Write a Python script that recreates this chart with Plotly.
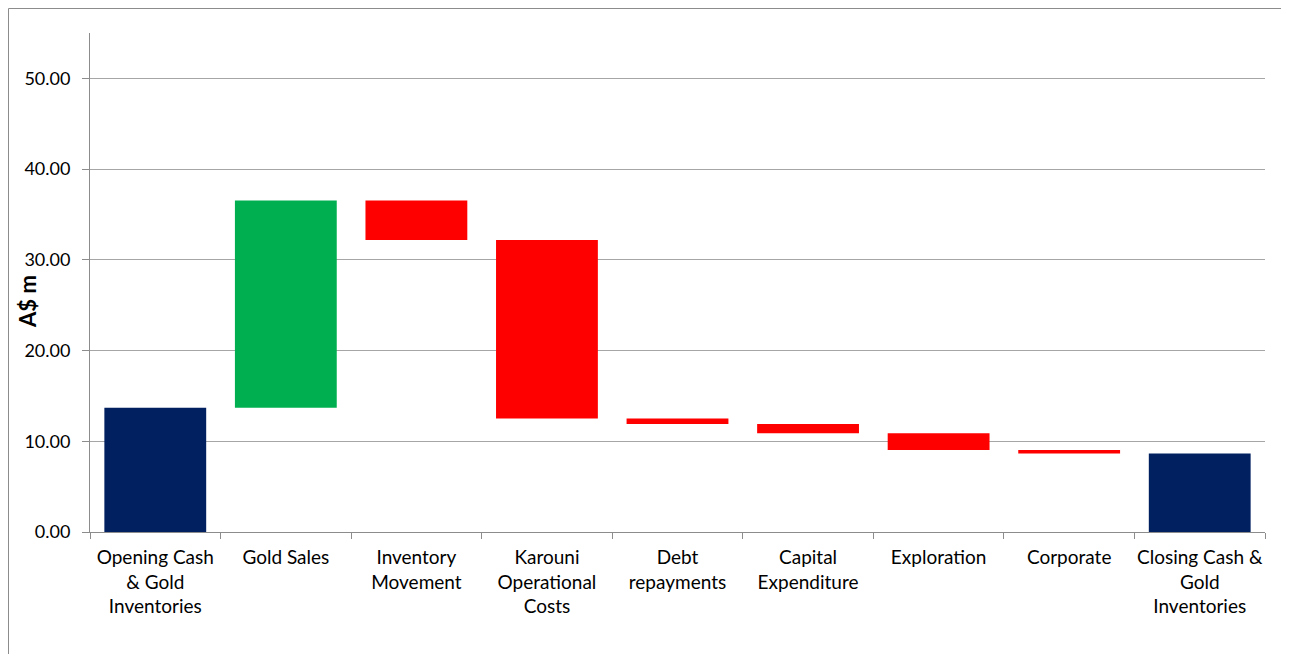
import plotly.graph_objects as go

categories = ["Opening Cash<br>& Gold<br>Inventories", "Gold Sales", "Inventory<br>Movement",
              "Karouni<br>Operational<br>Costs", "Debt<br>repayments", "Capital<br>Expenditure",
              "Exploration", "Corporate", "Closing Cash &<br>Gold<br>Inventories"]
measures = ["absolute", "relative", "relative", "relative", "relative", "relative",
            "relative", "relative", "total"]
values = [13.70, 22.83, -4.34, -19.67, -0.61, -1.02, -1.84, -0.40, 0]
y_title = "A$ m"

NAVY = "#002060"
GREEN = "#00B050"
RED = "#FF0000"
GRID = "#A6A6A6"
AXIS = "#8C8C8C"
FONT = "Lato"

W, H = 1281, 646
L, T, PW, PH = 82, 25, 1175, 499

fig = go.Figure(go.Waterfall(
    x=categories, y=values, measure=measures,
    increasing=dict(marker=dict(color=GREEN)),
    decreasing=dict(marker=dict(color=RED)),
    totals=dict(marker=dict(color=NAVY)),
    connector=dict(visible=False),
    width=0.78,
    hoverinfo="x+y",
))

fig.update_layout(
    width=W, height=H,
    margin=dict(l=L, r=W - L - PW, t=T, b=H - T - PH, autoexpand=False),
    paper_bgcolor="white", plot_bgcolor="white",
    font=dict(family=FONT, size=19, color="#000000"),
    showlegend=False,
    shapes=[dict(type="rect", xref="paper", yref="paper",
                 x0=(0.5 - L) / PW, x1=(W + 10 - L) / PW,
                 y0=-(H + 10 - T - PH) / PH, y1=(T + PH - 0.5) / PH,
                 line=dict(color=AXIS, width=1), fillcolor="rgba(0,0,0,0)", layer="below")],
    annotations=[dict(text="<b>" + y_title + "</b>", textangle=-90,
                      xref="paper", yref="paper",
                      x=(19 - L) / PW, y=(T + PH - 294) / PH,
                      xanchor="center", yanchor="middle", showarrow=False,
                      font=dict(family=FONT, size=22, color="#000000"))],
)
fig.update_yaxes(
    range=[0, 55], tick0=0, dtick=10, tickformat=".2f",
    showgrid=True, gridcolor=GRID, gridwidth=1,
    showline=True, linecolor=AXIS, linewidth=1,
    ticks="outside", ticklen=7, tickcolor=AXIS,
    ticklabelstandoff=8,
    zeroline=False, automargin=False,
    tickfont=dict(family=FONT, size=18),
)
fig.update_xaxes(
    showline=True, linecolor=AXIS, linewidth=1,
    ticks="outside", ticklen=6, tickcolor=AXIS, tickson="boundaries",
    ticklabelstandoff=8, tickangle=0, automargin=False,
    showgrid=False,
    tickfont=dict(family=FONT, size=19),
)

fig.write_html("out.html")
